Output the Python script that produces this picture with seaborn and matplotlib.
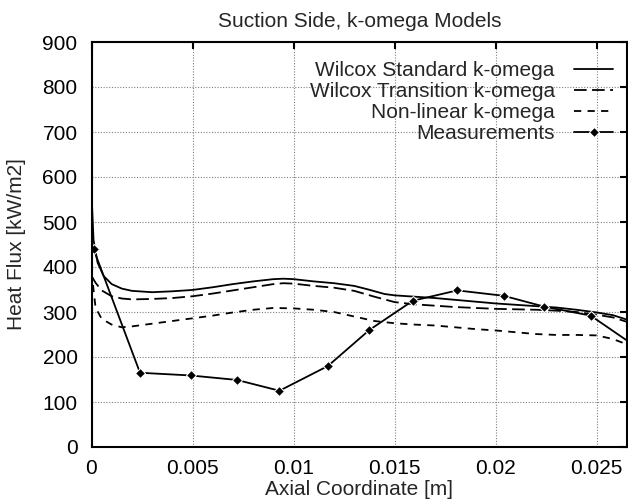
import numpy as np
import pandas as pd
import matplotlib
matplotlib.use("Agg")
import matplotlib.pyplot as plt
import seaborn as sns

# Wilcox standard k-omega model
std_x = [0.0, 0.0001, 0.0003, 0.0006, 0.001, 0.0015, 0.002, 0.003, 0.004, 0.005,
         0.006, 0.007, 0.008, 0.009, 0.0095, 0.010, 0.011, 0.012, 0.013, 0.0137,
         0.0145, 0.015, 0.016, 0.017, 0.018, 0.019, 0.020, 0.021, 0.022, 0.023,
         0.024, 0.025, 0.0258, 0.0265]
std_y = [565, 460, 410, 380, 362, 352, 347, 344, 346, 349,
         355, 362, 368, 373, 374, 373, 368, 364, 358, 350,
         340, 337, 334, 331, 327, 323, 319, 316, 313, 310,
         305, 299, 293, 283]

# Wilcox transition k-omega model
trn_x = [0.0, 0.0002, 0.0005, 0.001, 0.0015, 0.002, 0.003, 0.004, 0.005, 0.006,
         0.007, 0.008, 0.009, 0.0095, 0.010, 0.011, 0.012, 0.013, 0.014, 0.015,
         0.016, 0.017, 0.018, 0.019, 0.020, 0.021, 0.022, 0.023, 0.024, 0.025,
         0.0258, 0.0265]
trn_y = [380, 365, 348, 335, 330, 328, 329, 331, 335, 341,
         348, 355, 362, 364, 363, 358, 354, 347, 334, 322,
         317, 314, 311, 309, 307, 306, 305, 303, 300, 294,
         288, 278]

# Non-linear k-omega model
nl_x = [0.0, 0.0002, 0.0005, 0.001, 0.0015, 0.002, 0.003, 0.004, 0.005, 0.006,
        0.007, 0.008, 0.009, 0.010, 0.011, 0.012, 0.013, 0.014, 0.015, 0.016,
        0.017, 0.018, 0.019, 0.020, 0.021, 0.022, 0.023, 0.024, 0.025, 0.0258,
        0.0265]
nl_y = [390, 310, 285, 272, 266, 268, 274, 280, 286, 292,
        299, 305, 309, 308, 305, 300, 290, 280, 275, 272,
        270, 266, 262, 259, 255, 251, 249, 249, 248, 240,
        228]

# Measured heat flux
meas_x = [0.0001, 0.0024, 0.0049, 0.0072, 0.0093, 0.0117, 0.01375, 0.0159,
          0.0181, 0.0204, 0.0224, 0.0247, 0.0272]
meas_y = [440, 165, 159, 149, 125, 180, 260, 325, 348, 336, 312, 292, 215]

labels = ["Wilcox Standard k-omega", "Wilcox Transition k-omega",
          "Non-linear k-omega", "Measurements"]

x_ticks = [0, 0.005, 0.01, 0.015, 0.02, 0.025]
x_tick_labels = ["0", "0.005", "0.01", "0.015", "0.02", "0.025"]
y_ticks = list(range(0, 1000, 100))

FS = 15

sns.set_style("white")
plt.rcParams["font.family"] = ["Liberation Sans", "DejaVu Sans"]
plt.rcParams["font.size"] = FS

fig = plt.figure(figsize=(6.28, 5.01), dpi=100)
ax = fig.add_axes([91.5 / 628, 1 - 447 / 501, (627 - 91.5) / 628, (447 - 42) / 501])

lw = 1.3
series = [
    (std_x, std_y, labels[0], dict(linestyle="-")),
    (trn_x, trn_y, labels[1], dict(dashes=(7, 3))),
    (nl_x, nl_y, labels[2], dict(dashes=(4, 3.5))),
    (meas_x, meas_y, labels[3], dict(linestyle="-", marker="D", markersize=5)),
]
for xs, ys, lab, kw in series:
    df = pd.DataFrame({"x": xs, "y": ys})
    sns.lineplot(data=df, x="x", y="y", ax=ax, color="black", lw=lw,
                 label=lab, sort=False, estimator=None, **kw)

ax.set_xlim(0, 0.0265)
ax.set_ylim(0, 900)
ax.set_xticks(x_ticks)
ax.set_xticklabels(x_tick_labels)
ax.set_yticks(y_ticks)

ax.grid(True, color="#808080", linestyle=(0, (1, 1.5)), linewidth=0.8)
ax.set_axisbelow(True)
for s in ax.spines.values():
    s.set_linewidth(1.5)
    s.set_color("black")
ax.tick_params(direction="in", length=5, width=1.5, top=True, right=True,
               labelsize=FS, colors="black")
ax.tick_params(axis="y", pad=10)
ax.tick_params(axis="x", pad=9)

ax.set_title("Suction Side, k-omega Models", fontsize=FS, pad=11)
ax.set_xlabel("Axial Coordinate [m]", fontsize=FS, labelpad=1)
ax.set_ylabel("Heat Flux [kW/m2]", fontsize=FS, labelpad=12)

leg = ax.legend(loc="upper right", bbox_to_anchor=(613 / 628, 1 - 61 / 501),
                bbox_transform=fig.transFigure, frameon=False, markerfirst=False,
                borderpad=0, borderaxespad=0, handlelength=1.85, handletextpad=0.95,
                labelspacing=0.1, fontsize=FS)
for col in leg._legend_handle_box.get_children():
    col.align = "right"

fig.savefig("out.png", dpi=100)
